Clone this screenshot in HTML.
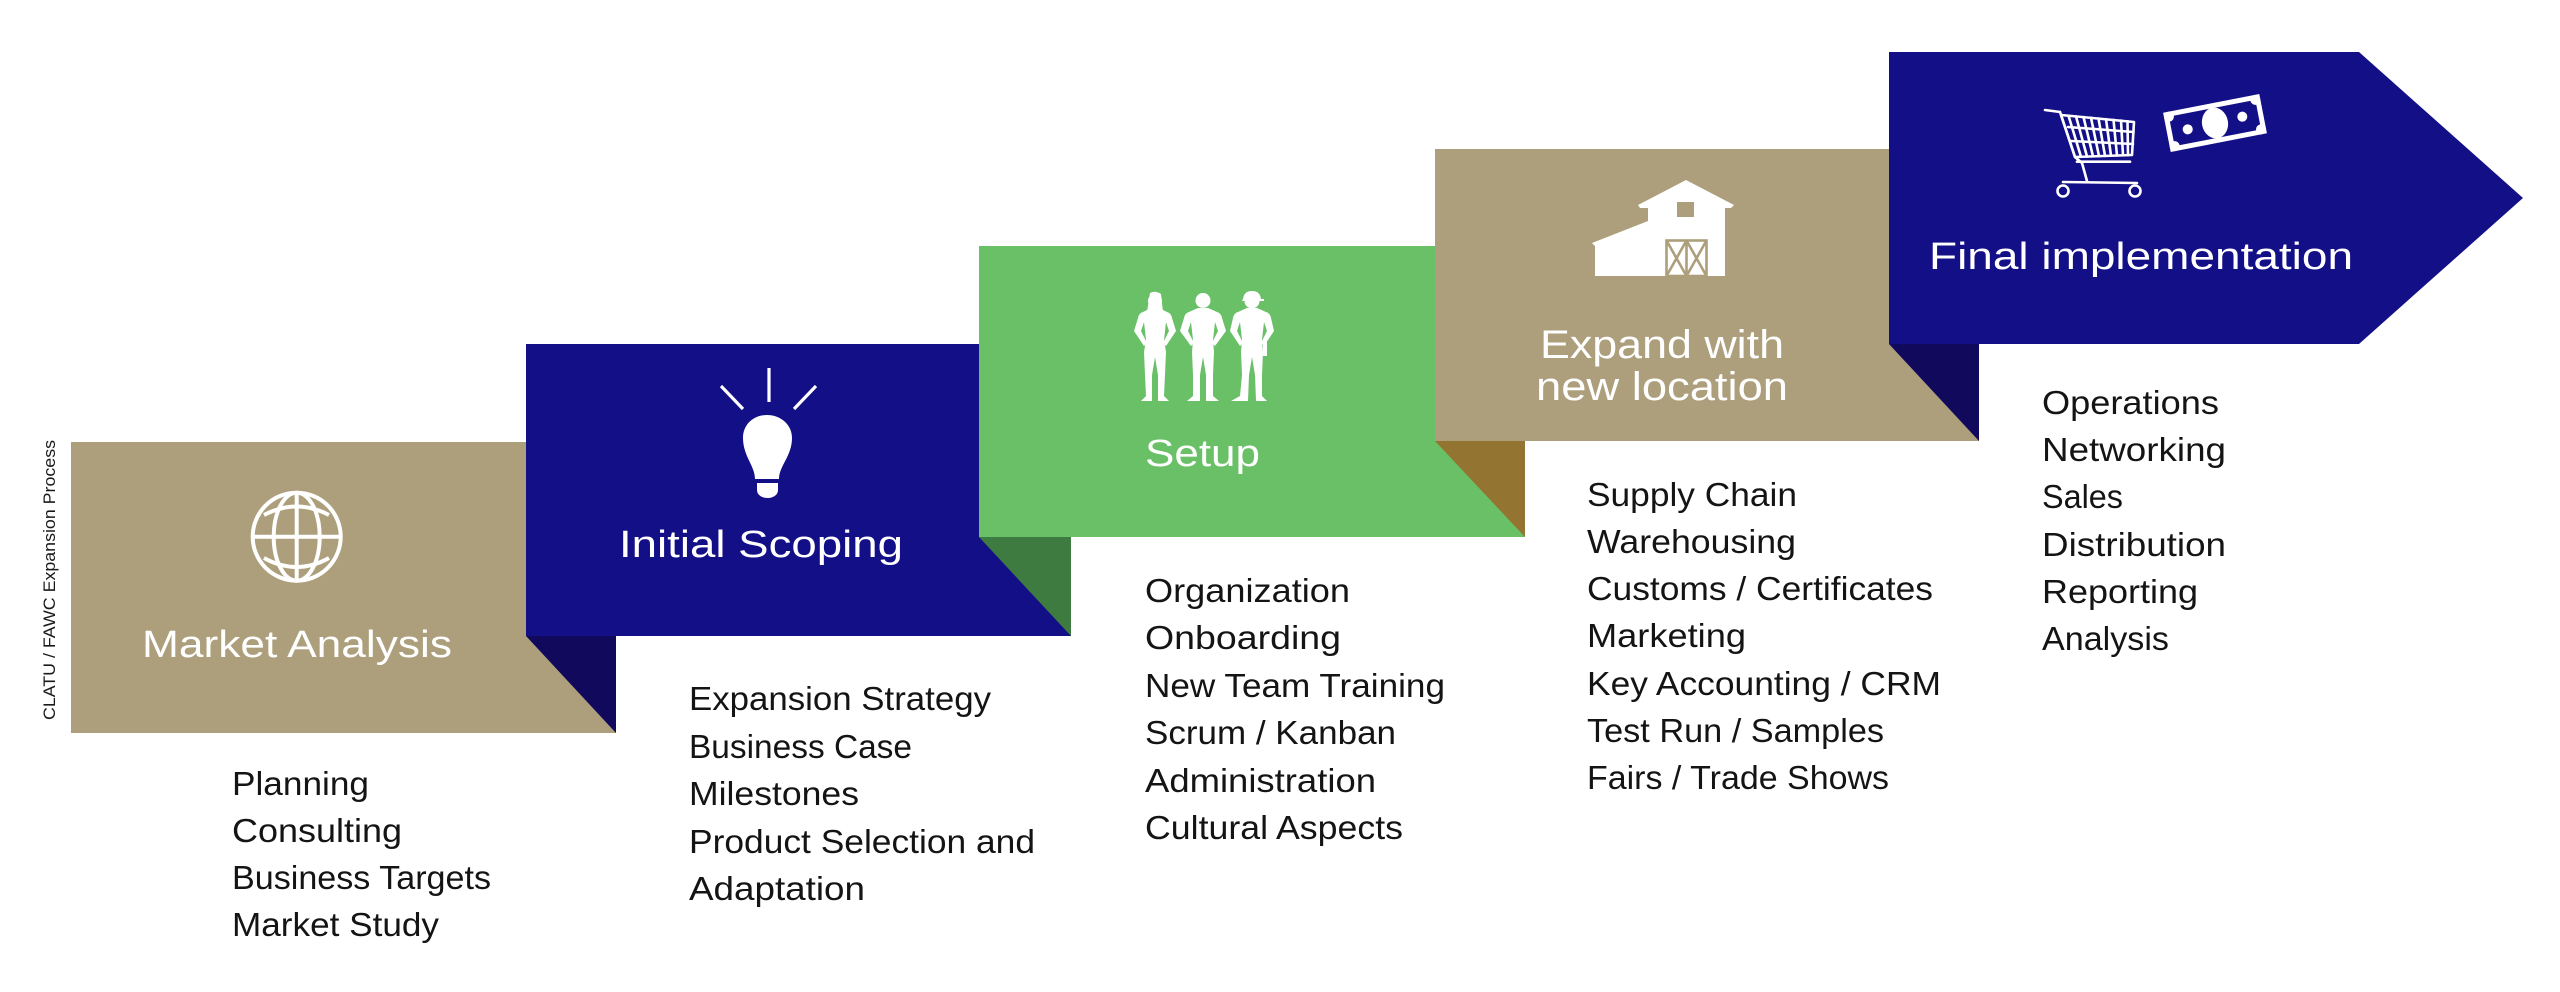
<!DOCTYPE html>
<html>
<head>
<meta charset="utf-8">
<style>
  html, body { margin: 0; padding: 0; background: #ffffff; }
  body { width: 2560px; height: 992px; overflow: hidden; }
  svg { display: block; }
  .t { font-family: "Liberation Sans", Arial, sans-serif; fill: #ffffff; }
  .l { font-family: "Liberation Sans", Arial, sans-serif; fill: #141414; font-size: 33px; }
</style>
</head>
<body>
<svg width="2560" height="992" viewBox="0 0 2560 992" xmlns="http://www.w3.org/2000/svg">
  <rect x="0" y="0" width="2560" height="992" fill="#ffffff"/>

  <!-- vertical caption -->
  <text class="l" transform="translate(55,720) rotate(-90)" x="0" y="0" font-size="16.5" textLength="280" lengthAdjust="spacingAndGlyphs" style="font-size:16.5px;fill:#1a1a1a">CLATU / FAWC Expansion Process</text>

  <!-- Step 1: beige -->
  <rect x="71" y="442" width="545" height="291" fill="#ad9f7b"/>
  <!-- Step 2: navy -->
  <rect x="526" y="344" width="545" height="292" fill="#130f86"/>
  <polygon points="526,636 616,636 616,733" fill="#11095c"/>
  <!-- Step 3: green -->
  <rect x="979" y="246" width="546" height="291" fill="#69c067"/>
  <polygon points="979,537 1071,537 1071,636" fill="#3e7b41"/>
  <!-- Step 4: beige -->
  <rect x="1435" y="149" width="544" height="292" fill="#ad9f7b"/>
  <polygon points="1435,441 1525,441 1525,537" fill="#937430"/>
  <!-- Step 5: navy arrow -->
  <polygon points="1889,52 2359,52 2523,198 2359,344 1889,344" fill="#130f86"/>
  <polygon points="1889,344 1979,344 1979,441" fill="#11095c"/>

  <!-- Globe icon -->
  <g fill="none" stroke="#ffffff" stroke-width="4">
    <circle cx="296.7" cy="536.7" r="44"/>
    <ellipse cx="296.7" cy="536.7" rx="23" ry="44"/>
    <line x1="296.7" y1="492.7" x2="296.7" y2="580.7"/>
    <line x1="252.7" y1="536.7" x2="340.7" y2="536.7"/>
    <path d="M264 515 Q296.7 498 329 515"/>
    <path d="M264 558 Q296.7 576 329 558"/>
  </g>
  <text class="t" x="142" y="657" font-size="38" textLength="310" lengthAdjust="spacingAndGlyphs">Market Analysis</text>

  <!-- Lightbulb icon -->
  <g stroke="#ffffff" stroke-width="3.2" stroke-linecap="butt">
    <line x1="769" y1="368" x2="769" y2="402"/>
    <line x1="721" y1="386" x2="743" y2="409"/>
    <line x1="816" y1="386" x2="794" y2="409"/>
  </g>
  <path d="M755 479 C755 466 743 456 743 438 C743 424 754 415 767 415 C780 415 792 424 792 438 C792 456 779 466 779 479 Z" fill="#ffffff"/>
  <path d="M757 483 L778 483 L778 490 C778 495 773 498 767.5 498 C762 498 757 495 757 490 Z" fill="#ffffff"/>
  <text class="t" x="619" y="557" font-size="38" textLength="284" lengthAdjust="spacingAndGlyphs">Initial Scoping</text>

  <!-- People icon -->
  <g fill="#ffffff">
    <!-- woman -->
    <circle cx="1155" cy="301" r="7"/>
    <path d="M1150 293 Q1155 290 1161 294 L1163 312 L1147 312 Z"/>
    <path d="M1151 308 L1143 312 Q1139 313 1138 318 L1134 331 L1144 346 L1147 343 L1141 331 L1144 322 L1146 340 L1144 352 L1145 375 L1146 396 L1141 401 L1152 401 L1152 375 L1155 357 L1158 375 L1158 401 L1169 401 L1164 396 L1165 375 L1166 352 L1164 340 L1166 322 L1169 331 L1163 343 L1166 346 L1176 331 L1172 318 Q1171 313 1167 312 L1159 308 Z"/>
    <!-- man -->
    <circle cx="1203" cy="300.5" r="7.5"/>
    <path d="M1198 308 L1189 312 Q1185 313 1184 318 L1180 331 L1191 346 L1194 343 L1188 331 L1191 322 L1193 340 L1192 352 L1193 375 L1193 396 L1187 401 L1200 401 L1200 375 L1203 357 L1206 375 L1206 401 L1219 401 L1213 396 L1213 375 L1214 352 L1213 340 L1215 322 L1218 331 L1212 343 L1215 346 L1226 331 L1222 318 Q1221 313 1217 312 L1208 308 Z"/>
    <!-- worker -->
    <circle cx="1252" cy="301" r="7.5"/>
    <path d="M1243 299 Q1244 291 1252 291 Q1260 291 1261 299 L1264 299 L1264 301 L1242 301 Z"/>
    <path d="M1247 308 L1238 312 Q1234 313 1233 318 L1230 331 L1240 346 L1243 343 L1237 331 L1240 322 L1242 340 L1241 352 L1242 375 L1240 396 L1231 401 L1248 401 L1249 375 L1252 357 L1255 375 L1256 401 L1267 401 L1262 396 L1262 375 L1263 352 L1262 340 L1264 322 L1267 331 L1261 343 L1264 346 L1274 331 L1271 318 Q1270 313 1266 312 L1257 308 Z"/>
    <rect x="1263" y="340" width="4" height="16"/>
  </g>
  <text class="t" x="1145" y="466" font-size="38" textLength="115" lengthAdjust="spacingAndGlyphs">Setup</text>

  <!-- Barn icon -->
  <path d="M1592 243 L1648 221 L1648 208 L1640 208 L1638 205 L1686 180 L1734 205 L1731 208 L1725 208 L1725 276 L1595 276 L1595 246 Z" fill="#ffffff"/>
  <rect x="1677" y="202" width="17" height="15" fill="#ad9f7b"/>
  <g fill="none" stroke="#ad9f7b" stroke-width="2.6">
    <rect x="1666.5" y="240.5" width="40" height="35.5"/>
    <line x1="1686.5" y1="240.5" x2="1686.5" y2="276"/>
    <line x1="1666.5" y1="240.5" x2="1686.5" y2="276"/>
    <line x1="1686.5" y1="240.5" x2="1666.5" y2="276"/>
    <line x1="1686.5" y1="240.5" x2="1706.5" y2="276"/>
    <line x1="1706.5" y1="240.5" x2="1686.5" y2="276"/>
  </g>
  <text class="t" x="1540" y="358" font-size="40" textLength="244" lengthAdjust="spacingAndGlyphs">Expand with</text>
  <text class="t" x="1536" y="400" font-size="40" textLength="252" lengthAdjust="spacingAndGlyphs">new location</text>

  <!-- Cart icon -->
  <g fill="none" stroke="#ffffff" stroke-width="2.6" stroke-linejoin="round" stroke-linecap="round">
    <line x1="2045" y1="110" x2="2060" y2="112"/>
    <polygon points="2061,115 2134,122 2132,155 2075,157"/>
    <line x1="2060" y1="112" x2="2075" y2="157"/>
    <line x1="2068" y1="127" x2="2133.5" y2="132"/>
    <line x1="2071" y1="141" x2="2133" y2="144"/>
    <line x1="2068.5" y1="115.7" x2="2081" y2="156.7"/>
    <line x1="2076" y1="116.4" x2="2087" y2="156.5"/>
    <line x1="2083.5" y1="117.1" x2="2093" y2="156.3"/>
    <line x1="2091" y1="117.8" x2="2099" y2="156.1"/>
    <line x1="2098.5" y1="118.5" x2="2105" y2="155.9"/>
    <line x1="2106" y1="119.2" x2="2111" y2="155.7"/>
    <line x1="2113.5" y1="119.9" x2="2117" y2="155.5"/>
    <line x1="2121" y1="120.6" x2="2123" y2="155.3"/>
    <line x1="2127.5" y1="121.3" x2="2128" y2="155.1"/>
    <line x1="2077" y1="161.7" x2="2130" y2="161.7"/>
    <path d="M2075 157 L2082 163 L2087 181"/>
    <line x1="2063" y1="182" x2="2137" y2="183"/>
    <circle cx="2063" cy="191" r="5.5"/>
    <circle cx="2135" cy="191" r="5.5"/>
  </g>
  <!-- Money icon -->
  <g transform="translate(2215,123) rotate(-11)">
    <rect x="-49" y="-20" width="98" height="40" fill="#ffffff"/>
    <rect x="-44" y="-15" width="88" height="30" fill="#130f86"/>
    <circle cx="-44" cy="-15" r="5" fill="#ffffff"/>
    <circle cx="44" cy="-15" r="5" fill="#ffffff"/>
    <circle cx="-44" cy="15" r="5" fill="#ffffff"/>
    <circle cx="44" cy="15" r="5" fill="#ffffff"/>
    <ellipse cx="0" cy="0" rx="13" ry="15.5" fill="#ffffff"/>
    <circle cx="-28" cy="1" r="5" fill="#ffffff"/>
    <circle cx="28" cy="-1" r="5" fill="#ffffff"/>
  </g>
  <text class="t" x="1929" y="269" font-size="38" textLength="424" lengthAdjust="spacingAndGlyphs">Final implementation</text>

  <!-- Column 1 -->
  <text class="l" x="232" y="795" textLength="137" lengthAdjust="spacingAndGlyphs">Planning</text>
  <text class="l" x="232" y="842" textLength="170" lengthAdjust="spacingAndGlyphs">Consulting</text>
  <text class="l" x="232" y="889" textLength="259" lengthAdjust="spacingAndGlyphs">Business Targets</text>
  <text class="l" x="232" y="936" textLength="207" lengthAdjust="spacingAndGlyphs">Market Study</text>

  <!-- Column 2 -->
  <text class="l" x="689" y="710" textLength="302" lengthAdjust="spacingAndGlyphs">Expansion Strategy</text>
  <text class="l" x="689" y="758" textLength="223" lengthAdjust="spacingAndGlyphs">Business Case</text>
  <text class="l" x="689" y="805" textLength="170" lengthAdjust="spacingAndGlyphs">Milestones</text>
  <text class="l" x="689" y="853" textLength="346" lengthAdjust="spacingAndGlyphs">Product Selection and</text>
  <text class="l" x="689" y="900" textLength="176" lengthAdjust="spacingAndGlyphs">Adaptation</text>

  <!-- Column 3 -->
  <text class="l" x="1145" y="602" textLength="205" lengthAdjust="spacingAndGlyphs">Organization</text>
  <text class="l" x="1145" y="649" textLength="196" lengthAdjust="spacingAndGlyphs">Onboarding</text>
  <text class="l" x="1145" y="697" textLength="300" lengthAdjust="spacingAndGlyphs">New Team Training</text>
  <text class="l" x="1145" y="744" textLength="251" lengthAdjust="spacingAndGlyphs">Scrum / Kanban</text>
  <text class="l" x="1145" y="792" textLength="231" lengthAdjust="spacingAndGlyphs">Administration</text>
  <text class="l" x="1145" y="839" textLength="258" lengthAdjust="spacingAndGlyphs">Cultural Aspects</text>

  <!-- Column 4 -->
  <text class="l" x="1587" y="506" textLength="210" lengthAdjust="spacingAndGlyphs">Supply Chain</text>
  <text class="l" x="1587" y="553" textLength="209" lengthAdjust="spacingAndGlyphs">Warehousing</text>
  <text class="l" x="1587" y="600" textLength="346" lengthAdjust="spacingAndGlyphs">Customs / Certificates</text>
  <text class="l" x="1587" y="647" textLength="159" lengthAdjust="spacingAndGlyphs">Marketing</text>
  <text class="l" x="1587" y="695" textLength="354" lengthAdjust="spacingAndGlyphs">Key Accounting / CRM</text>
  <text class="l" x="1587" y="742" textLength="297" lengthAdjust="spacingAndGlyphs">Test Run / Samples</text>
  <text class="l" x="1587" y="789" textLength="302" lengthAdjust="spacingAndGlyphs">Fairs / Trade Shows</text>

  <!-- Column 5 -->
  <text class="l" x="2042" y="414" textLength="177" lengthAdjust="spacingAndGlyphs">Operations</text>
  <text class="l" x="2042" y="461" textLength="184" lengthAdjust="spacingAndGlyphs">Networking</text>
  <text class="l" x="2042" y="508" textLength="81" lengthAdjust="spacingAndGlyphs">Sales</text>
  <text class="l" x="2042" y="556" textLength="184" lengthAdjust="spacingAndGlyphs">Distribution</text>
  <text class="l" x="2042" y="603" textLength="156" lengthAdjust="spacingAndGlyphs">Reporting</text>
  <text class="l" x="2042" y="650" textLength="127" lengthAdjust="spacingAndGlyphs">Analysis</text>
</svg>
</body>
</html>
